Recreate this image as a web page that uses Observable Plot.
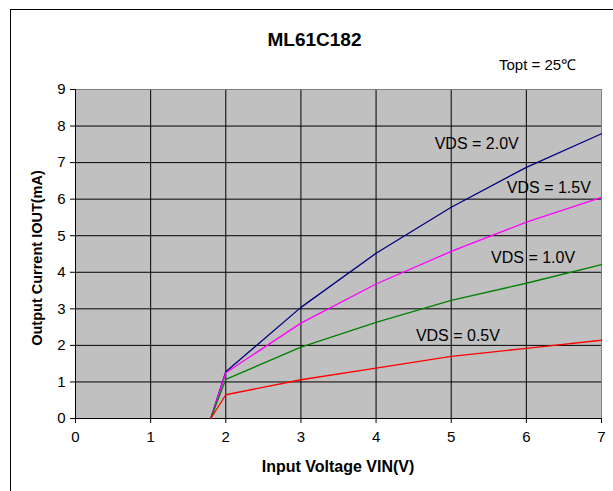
<!DOCTYPE html>
<html>
<head>
<meta charset="utf-8">
<script src="https://cdn.jsdelivr.net/npm/d3@7"></script>
<script src="https://cdn.jsdelivr.net/npm/@observablehq/plot@0.6"></script>
<style>
  html, body { margin: 0; padding: 0; background: #fff; }
  body { font-family: "Liberation Sans", Arial, sans-serif; }
  #wrap { position: relative; width: 613px; height: 491px; overflow: hidden; }
  #frame { position: absolute; left: 10px; top: 9px; width: 620px; height: 500px; border-left: 1px solid #000; border-top: 1px solid #000; box-sizing: border-box; }
  .txt { position: absolute; white-space: nowrap; color: #000; font-family: "Liberation Sans", Arial, sans-serif; line-height: 20px; }
  #title { left: 8px; width: 613px; text-align: center; top: 30px; font-size: 19px; font-weight: bold; }
  #topt { left: 499px; top: 55px; font-size: 15px; }
  #xlabel { left: 75px; width: 526px; text-align: center; top: 457px; font-size: 16px; font-weight: bold; }
  #ylabel { left: -113px; width: 300px; text-align: center; top: 248px; font-size: 14.5px; font-weight: bold; transform: rotate(-90deg); }
  #chart { position: absolute; left: 0; top: 0; }
</style>
</head>
<body>
<div id="wrap">
  <div id="chart"></div>
  <div id="frame"></div>
  <div class="txt" id="title">ML61C182</div>
  <div class="txt" id="topt">Topt = 25℃</div>
  <div class="txt" id="xlabel">Input Voltage VIN(V)</div>
  <div class="txt" id="ylabel">Output Current IOUT(mA)</div>
</div>
<script>
// Input voltage (V)
const vin = [1.8, 2, 3, 4, 5, 6, 7];
// Output current (mA) for each VDS
const series = ["VDS = 2.0V", "VDS = 1.5V", "VDS = 1.0V", "VDS = 0.5V"];
const vds20 = [0, 1.28, 3.04, 4.52, 5.78, 6.87, 7.79];
const vds15 = [0, 1.25, 2.61, 3.68, 4.57, 5.37, 6.05];
const vds10 = [0, 1.07, 1.95, 2.63, 3.23, 3.70, 4.21];
const vds05 = [0, 0.65, 1.06, 1.38, 1.70, 1.92, 2.14];
const colors = ["#000080", "#ff00ff", "#008000", "#ff0000"];
const xTicks = [0, 1, 2, 3, 4, 5, 6, 7];
const yTicks = [0, 1, 2, 3, 4, 5, 6, 7, 8, 9];
// Annotation anchor points (data coordinates)
const labelX = [4.78, 5.74, 5.53, 4.53];
const labelY = [7.5, 6.32, 4.4, 2.27];

const allValues = [vds20, vds15, vds10, vds05];
const rows = [];
series.forEach((s, i) => vin.forEach((v, j) => rows.push({series: s, vin: v, iout: allValues[i][j]})));
const labels = series.map((s, i) => ({text: s, x: labelX[i], y: labelY[i]}));

const chart = Plot.plot({
  width: 613,
  height: 491,
  marginLeft: 75,
  marginRight: 12,
  marginTop: 89,
  marginBottom: 73,
  style: {fontFamily: "'Liberation Sans', Arial, sans-serif", fontSize: "15px", color: "#000", background: "transparent"},
  x: {domain: [0, 7], ticks: xTicks, label: null},
  y: {domain: [0, 9], ticks: yTicks, label: null},
  color: {domain: series, range: colors},
  marks: [
    Plot.frame({fill: "#c0c0c0", stroke: "none"}),
    Plot.gridX(xTicks, {stroke: "#000", strokeOpacity: 1, strokeWidth: 1}),
    Plot.gridY(yTicks, {stroke: "#000", strokeOpacity: 1, strokeWidth: 1}),
    Plot.frame({stroke: "#808080", strokeWidth: 1}),
    Plot.axisX(xTicks, {tickSize: 5, tickPadding: 8, fontSize: 15, stroke: "#000"}),
    Plot.axisY(yTicks, {tickSize: 5, tickPadding: 5, fontSize: 15, stroke: "#000"}),
    Plot.ruleX([0], {stroke: "#000"}),
    Plot.ruleY([0], {stroke: "#000"}),
    Plot.line(rows, {x: "vin", y: "iout", z: "series", stroke: "series", strokeWidth: 1.3}),
    Plot.text(labels, {x: "x", y: "y", text: "text", textAnchor: "start", fontSize: 16, fill: "#000"})
  ]
});
document.getElementById("chart").appendChild(chart);
</script>
</body>
</html>
